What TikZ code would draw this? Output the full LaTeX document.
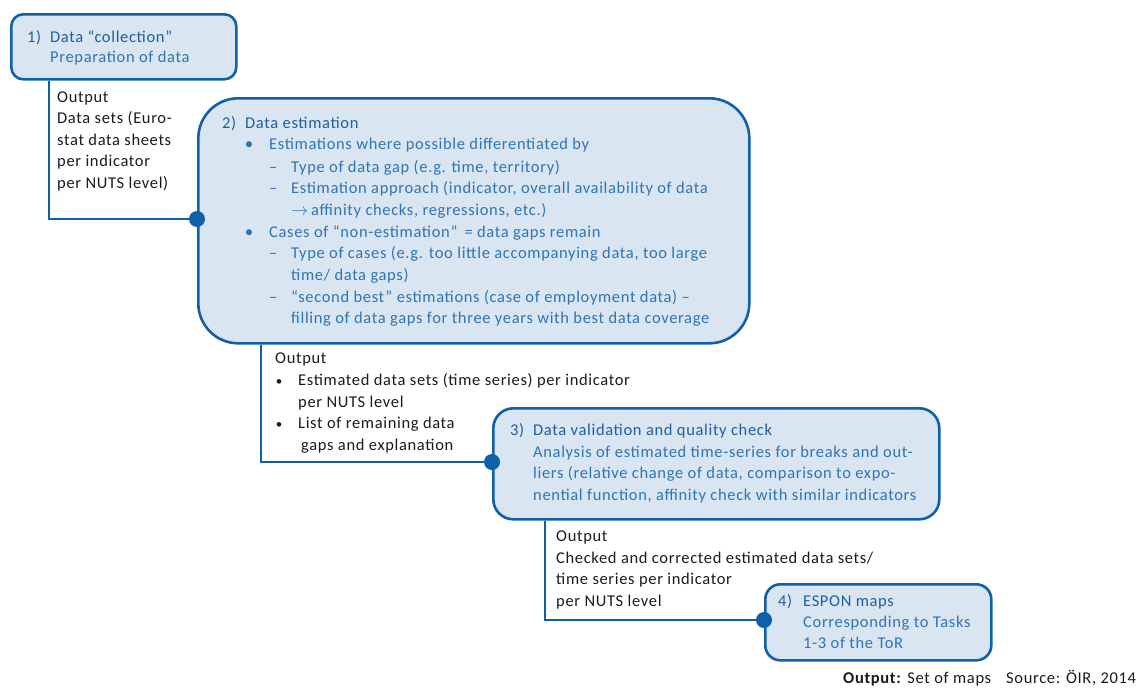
\documentclass[tikz,border=0pt]{standalone}
\usepackage{fontspec}
\setmainfont{Carlito}[LetterSpace=4]
\definecolor{boxfill}{HTML}{DAE5F2}
\definecolor{boxline}{HTML}{0F60AB}
\definecolor{bodyblue}{HTML}{2E75B6}
\definecolor{titleblue}{HTML}{1F5FA0}
\definecolor{ink}{HTML}{1A1A1A}
\tikzset{
  stage/.style={draw=boxline, fill=boxfill, line width=2.6pt, anchor=north west, inner sep=0pt},
  conn/.style={draw=boxline, line width=2.6pt},
  dotmark/.style={fill=boxline},
  bt/.style={anchor=base west, inner sep=0pt, text=bodyblue, font=\fontsize{16.5}{18}\selectfont},
  tt/.style={bt, text=titleblue},
  ot/.style={bt, text=ink},
  bbul/.style={anchor=base, inner sep=0pt, text=bodyblue, font=\fontsize{17}{18}\selectfont},
  obul/.style={anchor=base, inner sep=0pt, text=ink, font=\fontsize{13}{18}\selectfont},
}
\begin{document}
\begin{tikzpicture}[x=1pt, y=-1pt]
\useasboundingbox (0,0) rectangle (1146,688);

\coordinate (d1) at (197,219);
\coordinate (d2) at (492,462);
\coordinate (d3) at (764,620);

\node[stage, minimum width=225pt, minimum height=65pt, rounded corners=12pt] (s1) at (10,13) {};
\node[stage, minimum width=551pt, minimum height=245pt, rounded corners=40pt] (s2) at (197,97) {};
\node[stage, minimum width=446pt, minimum height=111pt, rounded corners=20pt] (s3) at (492,407) {};
\node[stage, minimum width=226pt, minimum height=76pt, rounded corners=15pt] (s4) at (764,583) {};

\draw[conn] ([xshift=39pt]s1.south west) |- (d1);
\draw[conn] ([xshift=64pt]s2.south west) |- (d2);
\draw[conn] ([xshift=53pt]s3.south west) |- (d3);
\fill[dotmark] (d1) circle (8pt);
\fill[dotmark] (d2) circle (8pt);
\fill[dotmark] (d3) circle (8pt);

% box 1
\node[tt] (t1n) at (27,42) {1)};
\node[tt] (t1a) at (50,42) {Data “collection”};
\node[bt] (t1b) at (50,62) {Preparation of data};

% output 1
\node[ot] (o1a) at (57,102) {Output};
\node[ot] (o1b) at (57,123) {Data sets (Euro-};
\node[ot] (o1c) at (57,145) {stat data sheets};
\node[ot] (o1d) at (57,166) {per indicator};
\node[ot] (o1e) at (57,188) {per NUTS level)};

% box 2
\node[tt] (t2n) at (222,128) {2)};
\node[tt] (t2a) at (245,128) {Data estimation};
\node[bbul] (b2a) at (249,149) {•};
\node[bt] (t2b) at (269,149) {Estimations where possible differentiated by};
\node[bt] (h2a) at (269,172) {–};
\node[bt] (t2c) at (291,172) {Type of data gap (e.g. time, territory)};
\node[bt] (h2b) at (269,193) {–};
\node[bt] (t2d) at (291,193) {Estimation approach (indicator, overall availability of data};
\node[bt] (t2e) at (291,215) {$\rightarrow$\,affinity checks, regressions, etc.)};
\node[bbul] (b2b) at (249,237) {•};
\node[bt] (t2f) at (269,237) {Cases of “non-estimation”\, = data gaps remain};
\node[bt] (h2c) at (269,258) {–};
\node[bt] (t2g) at (291,258) {Type of cases (e.g. too little accompanying data, too large};
\node[bt] (t2h) at (291,280) {time/ data gaps)};
\node[bt] (h2d) at (269,302) {–};
\node[bt] (t2i) at (291,302) {“second best” estimations (case of employment data) –};
\node[bt] (t2j) at (291,323) {filling of data gaps for three years with best data coverage};

% output 2
\node[ot] (o2a) at (275,363) {Output};
\node[obul] (ob2a) at (279,385) {•};
\node[ot] (o2b) at (298,385) {Estimated data sets (time series) per indicator};
\node[ot] (o2c) at (298,407) {per NUTS level};
\node[obul] (ob2b) at (279,428) {•};
\node[ot] (o2d) at (298,428) {List of remaining data};
\node[ot] (o2e) at (301,450) {gaps and explanation};

% box 3
\node[tt] (t3n) at (510,435) {3)};
\node[tt] (t3a) at (533,435) {Data validation and quality check};
\node[bt] (t3b) at (533,457) {Analysis of estimated time-series for breaks and out-};
\node[bt] (t3c) at (533,478) {liers (relative change of data, comparison to expo-};
\node[bt] (t3d) at (533,500) {nential function, affinity check with similar indicators};

% output 3
\node[ot] (o3a) at (556,541) {Output};
\node[ot] (o3b) at (556,563) {Checked and corrected estimated data sets/};
\node[ot] (o3c) at (556,584) {time series per indicator};
\node[ot] (o3d) at (556,606) {per NUTS level};

% box 4
\node[tt] (t4n) at (778,606) {4)};
\node[tt] (t4a) at (803,606) {ESPON maps};
\node[bt] (t4b) at (803,627) {Corresponding to Tasks};
\node[bt] (t4c) at (803,648) {1-3 of the ToR};

% footer
\node[ot] (f1) at (843,683) {\textbf{Output:} Set of maps};
\node[ot] (f2) at (1006,683) {Source: ÖIR, 2014};
\end{tikzpicture}
\end{document}
